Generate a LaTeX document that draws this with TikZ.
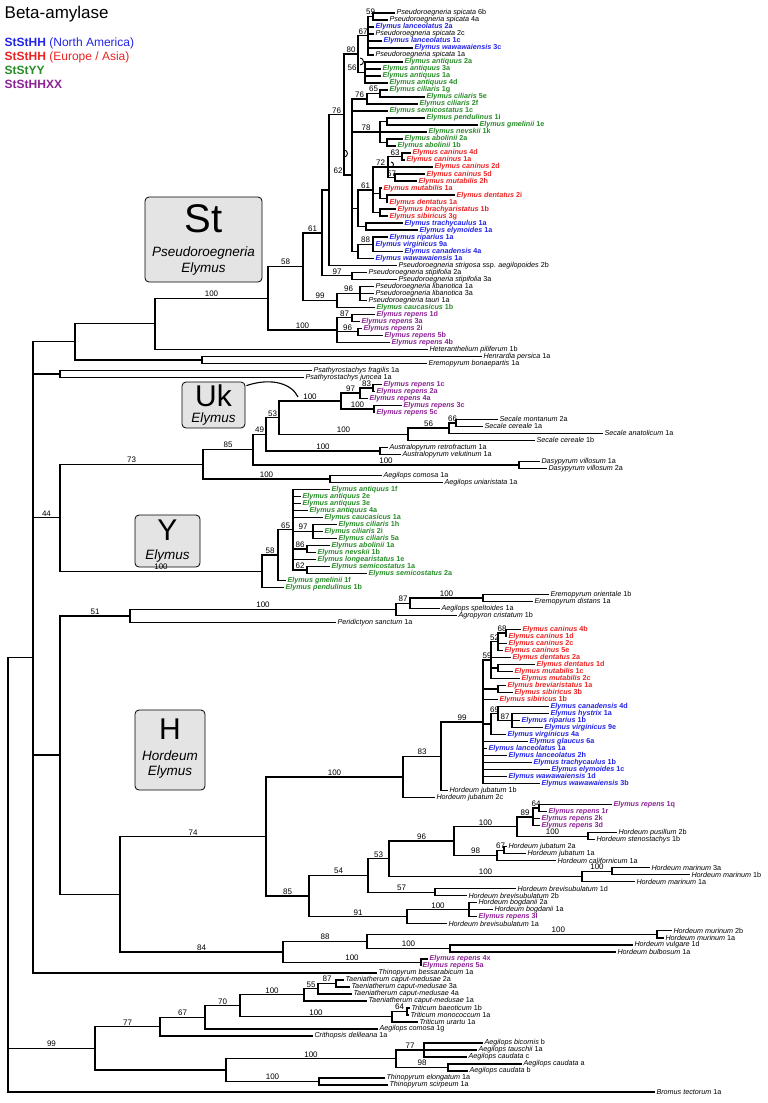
\documentclass[tikz,border=0pt]{standalone}
\usepackage{fontspec}
\setmainfont{Liberation Sans}
\definecolor{na}{RGB}{35,35,230}
\definecolor{eu}{RGB}{235,35,35}
\definecolor{yy}{RGB}{40,140,40}
\definecolor{xx}{RGB}{140,35,150}
\definecolor{boxgray}{RGB}{228,228,228}
\begin{document}
\begin{tikzpicture}[x=1pt,y=-1pt,line width=1.4pt,
  leaf/.style={anchor=west,inner sep=0.8pt,font=\fontsize{7.2}{8}\selectfont},
  elym/.style={leaf,font=\fontsize{7.2}{8}\selectfont\bfseries},
  na/.style={elym,text=na}, eu/.style={elym,text=eu},
  yy/.style={elym,text=yy}, xx/.style={elym,text=xx},
  bs/.style={pos=.75,above,inner sep=0.8pt,font=\fontsize{8}{9}\selectfont},
  bsl/.style={pos=.5,anchor=south east,inner sep=0.8pt,font=\fontsize{8}{9}\selectfont},
  genome/.style={draw,line width=0.8pt,rounded corners=4pt,fill=boxgray,inner sep=0pt},
  gbig/.style={inner sep=0pt,font=\fontsize{40}{40}\selectfont},
  gmid/.style={inner sep=0pt,font=\fontsize{30}{30}\selectfont},
  gname/.style={inner sep=0pt,font=\itshape\fontsize{13.5}{14}\selectfont},
  curl/.style={line width=0.9pt}
]
\useasboundingbox (0,0) rectangle (768,1103);
% title and legend
\node[anchor=north west,inner sep=0pt,font=\fontsize{17}{19}\selectfont] (title) at (4,5) {Beta-amylase};
\node[anchor=north west,inner sep=0pt,font=\fontsize{12}{14}\selectfont,text=na] (legNA) at (4,37) {\textbf{StStHH} (North America)};
\node[anchor=north west,inner sep=0pt,font=\fontsize{12}{14}\selectfont,text=eu] (legEU) at (4,51) {\textbf{StStHH} (Europe / Asia)};
\node[anchor=north west,inner sep=0pt,font=\fontsize{12}{14}\selectfont,text=yy] (legYY) at (4,65) {\textbf{StStYY}};
\node[anchor=north west,inner sep=0pt,font=\fontsize{12}{14}\selectfont,text=xx] (legXX) at (4,79) {\textbf{StStHHXX}};
% genome boxes
\node[genome,minimum width=117pt,minimum height=85pt] (boxSt) at (203.5,239.5) {};
\node[gbig] (tSt) at (203.5,219) {St};
\node[gname] (tSt2) at (203.5,253) {Pseudoroegneria};
\node[gname] (tSt3) at (203.5,269) {Elymus};
\node[genome,minimum width=63pt,minimum height=46pt] (boxUk) at (213.5,405) {};
\node[gmid] (tUk) at (213.5,396) {Uk};
\node[gname] (tUk2) at (213.5,419) {Elymus};
\node[genome,minimum width=65pt,minimum height=52pt] (boxY) at (167.5,541) {};
\node[gmid] (tY) at (167.5,530) {Y};
\node[gname] (tY2) at (167.5,556) {Elymus};
\node[genome,minimum width=70pt,minimum height=80pt] (boxH) at (170,750) {};
\node[gmid] (tH) at (170,729) {H};
\node[gname] (tH2) at (170,756) {Hordeum};
\node[gname] (tH3) at (170,772) {Elymus};
\draw[line width=1.1pt] (boxUk.north east) ++(1,4) .. controls (272,377) and (292,384) .. (298,397);
% small hooks at very short branches
\draw[curl] (360,65) arc[start angle=90,end angle=-90,radius=3.5];
\draw[curl] (344,157) arc[start angle=90,end angle=-90,radius=3.5];
\draw[curl] (391,167) arc[start angle=90,end angle=-90,radius=2.5];

\begin{scope}[yshift=-5.994pt,y=-7.006pt]
% ---- leaves ----
\node[leaf] (l1) at (395,1) {\textit{Pseudoroegneria spicata} 6b};
\node[leaf] (l2) at (388,2) {\textit{Pseudoroegneria spicata} 4a};
\node[na] (l3) at (374,3) {\textit{Elymus lanceolatus} 2a};
\node[leaf] (l4) at (374,4) {\textit{Pseudoroegneria spicata} 2c};
\node[na] (l5) at (382,5) {\textit{Elymus lanceolatus} 1c};
\node[na] (l6) at (413,6) {\textit{Elymus wawawaiensis} 3c};
\node[leaf] (l7) at (374,7) {\textit{Pseudoroegneria spicata} 1a};
\node[yy] (l8) at (403,8) {\textit{Elymus antiquus} 2a};
\node[yy] (l9) at (381,9) {\textit{Elymus antiquus} 3a};
\node[yy] (l10) at (381,10) {\textit{Elymus antiquus} 1a};
\node[yy] (l11) at (388,11) {\textit{Elymus antiquus} 4d};
\node[yy] (l12) at (388,12) {\textit{Elymus ciliaris} 1g};
\node[yy] (l13) at (425,13) {\textit{Elymus ciliaris} 5e};
\node[yy] (l14) at (418,14) {\textit{Elymus ciliaris} 2f};
\node[yy] (l15) at (388,15) {\textit{Elymus semicostatus} 1c};
\node[yy] (l16) at (425,16) {\textit{Elymus pendulinus} 1i};
\node[yy] (l17) at (478,17) {\textit{Elymus gmelinii} 1e};
\node[yy] (l18) at (427,18) {\textit{Elymus nevskii} 1k};
\node[yy] (l19) at (403,19) {\textit{Elymus abolinii} 2a};
\node[yy] (l20) at (396,20) {\textit{Elymus abolinii} 1b};
\node[eu] (l21) at (411,21) {\textit{Elymus caninus} 4d};
\node[eu] (l22) at (405,22) {\textit{Elymus caninus} 1a};
\node[eu] (l23) at (433,23) {\textit{Elymus caninus} 2d};
\node[eu] (l24) at (425,24) {\textit{Elymus caninus} 5d};
\node[eu] (l25) at (417,25) {\textit{Elymus mutabilis} 2h};
\node[eu] (l26) at (382,26) {\textit{Elymus mutabilis} 1a};
\node[eu] (l27) at (455,27) {\textit{Elymus dentatus} 2i};
\node[eu] (l28) at (388,28) {\textit{Elymus dentatus} 1a};
\node[eu] (l29) at (396,29) {\textit{Elymus brachyaristatus} 1b};
\node[eu] (l30) at (388,30) {\textit{Elymus sibiricus} 3g};
\node[na] (l31) at (403,31) {\textit{Elymus trachycaulus} 1a};
\node[na] (l32) at (418,32) {\textit{Elymus elymoides} 1a};
\node[na] (l33) at (388,33) {\textit{Elymus riparius} 1a};
\node[na] (l34) at (374,34) {\textit{Elymus virginicus} 9a};
\node[na] (l35) at (403,35) {\textit{Elymus canadensis} 4a};
\node[na] (l36) at (374,36) {\textit{Elymus wawawaiensis} 1a};
\node[leaf] (l37) at (397,37) {\textit{Pseudoroegneria strigosa} ssp. \textit{aegilopoides} 2b};
\node[leaf] (l38) at (367,38) {\textit{Pseudoroegneria stipifolia} 2a};
\node[leaf] (l39) at (397,39) {\textit{Pseudoroegneria stipifolia} 3a};
\node[leaf] (l40) at (374,40) {\textit{Pseudoroegneria libanotica} 1a};
\node[leaf] (l41) at (374,41) {\textit{Pseudoroegneria libanotica} 3a};
\node[leaf] (l42) at (367,42) {\textit{Pseudoroegneria tauri} 1a};
\node[yy] (l43) at (375,43) {\textit{Elymus caucasicus} 1b};
\node[xx] (l44) at (375,44) {\textit{Elymus repens} 1d};
\node[xx] (l45) at (360,45) {\textit{Elymus repens} 3a};
\node[xx] (l46) at (362,46) {\textit{Elymus repens} 2i};
\node[xx] (l47) at (383,47) {\textit{Elymus repens} 5b};
\node[xx] (l48) at (390,48) {\textit{Elymus repens} 4b};
\node[leaf] (l49) at (428,49) {\textit{Heteranthelium piliferum} 1b};
\node[leaf] (l50) at (482,50) {\textit{Henrardia persica} 1a};
\node[leaf] (l51) at (427,51) {\textit{Eremopyrum bonaepartis} 1a};
\node[leaf] (l52) at (312,52) {\textit{Psathyrostachys fragilis} 1a};
\node[leaf] (l53) at (304,53) {\textit{Psathyrostachys juncea} 1a};
\node[xx] (l54) at (382,54) {\textit{Elymus repens} 1c};
\node[xx] (l55) at (375,55) {\textit{Elymus repens} 2a};
\node[xx] (l56) at (368,56) {\textit{Elymus repens} 4a};
\node[xx] (l57) at (402,57) {\textit{Elymus repens} 3c};
\node[xx] (l58) at (375,58) {\textit{Elymus repens} 5c};
\node[leaf] (l59) at (498,59) {\textit{Secale montanum} 2a};
\node[leaf] (l60) at (483,60) {\textit{Secale cereale} 1a};
\node[leaf] (l61) at (603,61) {\textit{Secale anatolicum} 1a};
\node[leaf] (l62) at (535,62) {\textit{Secale cereale} 1b};
\node[leaf] (l63) at (388,63) {\textit{Australopyrum retrofractum} 1a};
\node[leaf] (l64) at (401,64) {\textit{Australopyrum velutinum} 1a};
\node[leaf] (l65) at (540,65) {\textit{Dasypyrum villosum} 1a};
\node[leaf] (l66) at (547,66) {\textit{Dasypyrum villosum} 2a};
\node[leaf] (l67) at (382,67) {\textit{Aegilops comosa} 1a};
\node[leaf] (l68) at (443,68) {\textit{Aegilops uniaristata} 1a};
\node[yy] (l69) at (330,69) {\textit{Elymus antiquus} 1f};
\node[yy] (l70) at (301,70) {\textit{Elymus antiquus} 2e};
\node[yy] (l71) at (301,71) {\textit{Elymus antiquus} 3e};
\node[yy] (l72) at (308,72) {\textit{Elymus antiquus} 4a};
\node[yy] (l73) at (323,73) {\textit{Elymus caucasicus} 1a};
\node[yy] (l74) at (337,74) {\textit{Elymus ciliaris} 1h};
\node[yy] (l75) at (323,75) {\textit{Elymus ciliaris} 2i};
\node[yy] (l76) at (337,76) {\textit{Elymus ciliaris} 5a};
\node[yy] (l77) at (330,77) {\textit{Elymus abolinii} 1a};
\node[yy] (l78) at (316,78) {\textit{Elymus nevskii} 1b};
\node[yy] (l79) at (316,79) {\textit{Elymus longearistatus} 1e};
\node[yy] (l80) at (330,80) {\textit{Elymus semicostatus} 1a};
\node[yy] (l81) at (367,81) {\textit{Elymus semicostatus} 2a};
\node[yy] (l82) at (286,82) {\textit{Elymus gmelinii} 1f};
\node[yy] (l83) at (284,83) {\textit{Elymus pendulinus} 1b};
\node[leaf] (l84) at (549,84) {\textit{Eremopyrum orientale} 1b};
\node[leaf] (l85) at (533,85) {\textit{Eremopyrum distans} 1a};
\node[leaf] (l86) at (440,86) {\textit{Aegilops speltoides} 1a};
\node[leaf] (l87) at (457,87) {\textit{Agropyron cristatum} 1b};
\node[leaf] (l88) at (336,88) {\textit{Peridictyon sanctum} 1a};
\node[eu] (l89) at (521,89) {\textit{Elymus caninus} 4b};
\node[eu] (l90) at (507,90) {\textit{Elymus caninus} 1d};
\node[eu] (l91) at (507,91) {\textit{Elymus caninus} 2c};
\node[eu] (l92) at (503,92) {\textit{Elymus caninus} 5e};
\node[eu] (l93) at (511,93) {\textit{Elymus dentatus} 2a};
\node[eu] (l94) at (535,94) {\textit{Elymus dentatus} 1d};
\node[eu] (l95) at (513,95) {\textit{Elymus mutabilis} 1c};
\node[eu] (l96) at (520,96) {\textit{Elymus mutabilis} 2c};
\node[eu] (l97) at (506,97) {\textit{Elymus breviaristatus} 1a};
\node[eu] (l98) at (513,98) {\textit{Elymus sibiricus} 3b};
\node[eu] (l99) at (498,99) {\textit{Elymus sibiricus} 1b};
\node[na] (l100) at (549,100) {\textit{Elymus canadensis} 4d};
\node[na] (l101) at (549,101) {\textit{Elymus hystrix} 1a};
\node[na] (l102) at (520,102) {\textit{Elymus riparius} 1b};
\node[na] (l103) at (543,103) {\textit{Elymus virginicus} 9e};
\node[na] (l104) at (506,104) {\textit{Elymus virginicus} 4a};
\node[na] (l105) at (528,105) {\textit{Elymus glaucus} 6a};
\node[na] (l106) at (487,106) {\textit{Elymus lanceolatus} 1a};
\node[na] (l107) at (507,107) {\textit{Elymus lanceolatus} 2h};
\node[na] (l108) at (532,108) {\textit{Elymus trachycaulus} 1b};
\node[na] (l109) at (550,109) {\textit{Elymus elymoides} 1c};
\node[na] (l110) at (507,110) {\textit{Elymus wawawaiensis} 1d};
\node[na] (l111) at (540,111) {\textit{Elymus wawawaiensis} 3b};
\node[leaf] (l112) at (448,112) {\textit{Hordeum jubatum} 1b};
\node[leaf] (l113) at (435,113) {\textit{Hordeum jubatum} 2c};
\node[xx] (l114) at (612,114) {\textit{Elymus repens} 1q};
\node[xx] (l115) at (547,115) {\textit{Elymus repens} 1r};
\node[xx] (l116) at (540,116) {\textit{Elymus repens} 2k};
\node[xx] (l117) at (540,117) {\textit{Elymus repens} 3d};
\node[leaf] (l118) at (617,118) {\textit{Hordeum pusillum} 2b};
\node[leaf] (l119) at (595,119) {\textit{Hordeum stenostachys} 1b};
\node[leaf] (l120) at (507,120) {\textit{Hordeum jubatum} 2a};
\node[leaf] (l121) at (526,121) {\textit{Hordeum jubatum} 1a};
\node[leaf] (l122) at (556,122) {\textit{Hordeum californicum} 1a};
\node[leaf] (l123) at (650,123) {\textit{Hordeum marinum} 3a};
\node[leaf] (l124) at (690,124) {\textit{Hordeum marinum} 1b};
\node[leaf] (l125) at (635,125) {\textit{Hordeum marinum} 1a};
\node[leaf] (l126) at (516,126) {\textit{Hordeum brevisubulatum} 1d};
\node[leaf] (l127) at (467,127) {\textit{Hordeum brevisubulatum} 2b};
\node[leaf] (l128) at (477,128) {\textit{Hordeum bogdanii} 2a};
\node[leaf] (l129) at (493,129) {\textit{Hordeum bogdanii} 1a};
\node[xx] (l130) at (477,130) {\textit{Elymus repens} 3l};
\node[leaf] (l131) at (447,131) {\textit{Hordeum brevisubulatum} 1a};
\node[leaf] (l132) at (672,132) {\textit{Hordeum murinum} 2b};
\node[leaf] (l133) at (664,133) {\textit{Hordeum murinum} 1a};
\node[leaf] (l134) at (633,134) {\textit{Hordeum vulgare} 1d};
\node[leaf] (l135) at (616,135) {\textit{Hordeum bulbosum} 1a};
\node[xx] (l136) at (428,136) {\textit{Elymus repens} 4x};
\node[xx] (l137) at (421,137) {\textit{Elymus repens} 5a};
\node[leaf] (l138) at (377,138) {\textit{Thinopyrum bessarabicum} 1a};
\node[leaf] (l139) at (344,139) {\textit{Taeniatherum caput-medusae} 2a};
\node[leaf] (l140) at (350,140) {\textit{Taeniatherum caput-medusae} 3a};
\node[leaf] (l141) at (352,141) {\textit{Taeniatherum caput-medusae} 4a};
\node[leaf] (l142) at (367,142) {\textit{Taeniatherum caput-medusae} 1a};
\node[leaf] (l143) at (410,143) {\textit{Triticum baeoticum} 1b};
\node[leaf] (l144) at (409,144) {\textit{Triticum monococcum} 1a};
\node[leaf] (l145) at (418,145) {\textit{Triticum urartu} 1a};
\node[leaf] (l146) at (378,146) {\textit{Aegilops comosa} 1g};
\node[leaf] (l147) at (313,147) {\textit{Crithopsis delileana} 1a};
\node[leaf] (l148) at (483,148) {\textit{Aegilops bicornis} b};
\node[leaf] (l149) at (477,149) {\textit{Aegilops tauschii} 1a};
\node[leaf] (l150) at (467,150) {\textit{Aegilops caudata} c};
\node[leaf] (l151) at (522,151) {\textit{Aegilops caudata} a};
\node[leaf] (l152) at (468,152) {\textit{Aegilops caudata} b};
\node[leaf] (l153) at (385,153) {\textit{Thinopyrum elongatum} 1a};
\node[leaf] (l154) at (388,154) {\textit{Thinopyrum scirpeum} 1a};
\node[leaf] (l155) at (655,155) {\textit{Bromus tectorum} 1a};

% ---- internal nodes (x in pt, y in rows) ----
\coordinate (n59) at (373,1.5);
\coordinate (n67) at (368,4.25);
\coordinate (n56) at (365,9.5);
\coordinate (n80) at (358,6.875);
\coordinate (n65) at (380,12.5);
\coordinate (n76a) at (367,13.25);
\coordinate (nPG) at (387,16.5);
\coordinate (nAB) at (387,19.5);
\coordinate (n78) at (380,18);
\coordinate (n63) at (402,21.5);
\coordinate (n57) at (395,24.5);
\coordinate (n72) at (388,23);
\coordinate (nDent) at (387,27.5);
\coordinate (nMut) at (380,26.75);
\coordinate (nBS) at (380,29.5);
\coordinate (nRed) at (373,26.25);
\coordinate (nTE) at (366,31.5);
\coordinate (nR) at (358,28.875);
\coordinate (n88) at (373,34);
\coordinate (nBl) at (358,35);
\coordinate (nY) at (352,24.125);
\coordinate (nBig) at (344,15.5);
\coordinate (nX) at (329,26.25);
\coordinate (n97) at (352,38.5);
\coordinate (n61) at (322,32.375);
\coordinate (n96a) at (360,41);
\coordinate (n99) at (337,42);
\coordinate (n58) at (303,37.19);
\coordinate (n87) at (352,44.5);
\coordinate (n96b) at (358,46.5);
\coordinate (nRep) at (337,46.25);
\coordinate (n100a) at (268,41.72);
\coordinate (nTop1) at (155,45.36);
\coordinate (nHE) at (202,50.5);
\coordinate (nTop2) at (75,47.93);
\coordinate (nPs) at (60,52.5);
% Uk, Secale, Australopyrum, Dasypyrum, Aegilops
\coordinate (n83) at (373,54.5);
\coordinate (n97c) at (360,55.25);
\coordinate (n100c) at (374,57.5);
\coordinate (nUk) at (341,56.375);
\coordinate (n66) at (456,59.5);
\coordinate (n56s) at (449,60.25);
\coordinate (nSec) at (408,61.125);
\coordinate (n53) at (279,58.75);
\coordinate (nAus) at (380,63.5);
\coordinate (n49) at (266,61.125);
\coordinate (nDasy) at (519,65.5);
\coordinate (n85) at (253,63.31);
\coordinate (nAeg) at (330,67.5);
\coordinate (nU) at (203,65.41);
% Y
\coordinate (n97y) at (313,75);
\coordinate (n86) at (307,77.5);
\coordinate (n62y) at (307,80.5);
\coordinate (n65y) at (293,74.75);
\coordinate (n58y) at (278,78.375);
\coordinate (nYc) at (262,80.69);
\coordinate (n44) at (60,73.05);
% H
\coordinate (nErem) at (483,84.5);
\coordinate (n87h) at (410,85.25);
\coordinate (nAgro) at (396,86.125);
\coordinate (nP) at (130,87.06);
\coordinate (n68) at (506,89.5);
\coordinate (n52) at (498,90.75);
\coordinate (nDM) at (498,94.5);
\coordinate (n59h) at (491,93.375);
\coordinate (nBS2) at (498,97.5);
\coordinate (n87e) at (512,102);
\coordinate (n69) at (498,101);
\coordinate (nV) at (491,102.5);
\coordinate (n99h) at (483,102.19);
\coordinate (n83h) at (441,107.09);
\coordinate (n100j) at (403,110.05);
\coordinate (n64) at (539,114.5);
\coordinate (n89) at (533,115.75);
\coordinate (nPS) at (588,118.5);
\coordinate (n100h) at (517,117.125);
\coordinate (n67h) at (504,120.5);
\coordinate (n98) at (497,121.25);
\coordinate (n96h) at (454,119.19);
\coordinate (n100m) at (612,123.5);
\coordinate (nMarAll) at (582,124.25);
\coordinate (n53h) at (389,121.72);
\coordinate (nBrev) at (435,126.5);
\coordinate (n54) at (368,124.11);
\coordinate (nBog) at (469,129);
\coordinate (n91) at (407,130);
\coordinate (n85h) at (309,127.05);
\coordinate (n266) at (266,118.55);
\coordinate (nMur) at (657,132.5);
\coordinate (nVB) at (450,134.5);
\coordinate (n88h) at (367,133.5);
\coordinate (nR45) at (421,136.5);
\coordinate (n283) at (283,135);
\coordinate (nH) at (120,126.78);
\coordinate (nH2) at (60,106.92);
% basal groups
\coordinate (n87t) at (336,139.5);
\coordinate (n55) at (318,140.25);
\coordinate (nTaen) at (304,141.125);
\coordinate (nTr64) at (407,143.5);
\coordinate (nTr) at (392,144.25);
\coordinate (n70) at (240,142.69);
\coordinate (n67b) at (205,144.34);
\coordinate (n77b) at (160,145.67);
\coordinate (n77a) at (424,149);
\coordinate (n98a) at (448,151.5);
\coordinate (nAegB) at (396,150.25);
\coordinate (nThin) at (319,153.5);
\coordinate (nAT) at (226,151.875);
\coordinate (n99b) at (95,148.77);
\coordinate (nBase) at (33,92.97);
\coordinate (root) at (8,123.98);

% ---- branches ----
\foreach \c in {l1,l2} \draw (n59) |- (\c);
\foreach \c in {l3,l4,l5,l6,l7} \draw (n67) |- (\c);
\draw (n67) |- node[bs]{59} (n59);
\foreach \c in {l8,l9,l10,l11} \draw (n56) |- (\c);
\draw (n80) |- node[bs]{67} (n67);
\draw (n80) |- node[bsl]{56} (n56);
\foreach \c in {l12,l13} \draw (n65) |- (\c);
\draw (n76a) |- node[bs]{65} (n65);
\draw (n76a) |- (l14);
\foreach \c in {l16,l17} \draw (nPG) |- (\c);
\foreach \c in {l19,l20} \draw (nAB) |- (\c);
\foreach \c in {nPG,l18,nAB} \draw (n78) |- (\c);
\foreach \c in {l21,l22} \draw (n63) |- (\c);
\foreach \c in {l24,l25} \draw (n57) |- (\c);
\draw (n72) |- node[bs]{63} (n63);
\draw (n72) |- (l23);
\draw (n72) |- node[bs]{57} (n57);
\foreach \c in {l27,l28} \draw (nDent) |- (\c);
\foreach \c in {l26,nDent} \draw (nMut) |- (\c);
\foreach \c in {l29,l30} \draw (nBS) |- (\c);
\draw (nRed) |- node[bs]{72} (n72);
\foreach \c in {nMut,nBS} \draw (nRed) |- (\c);
\foreach \c in {l31,l32} \draw (nTE) |- (\c);
\draw (nR) |- node[bs]{61} (nRed);
\draw (nR) |- (nTE);
\foreach \c in {l33,l34,l35} \draw (n88) |- (\c);
\draw (nBl) |- node[bs]{88} (n88);
\draw (nBl) |- (l36);
\draw (nY) |- node[bs]{76} (n76a);
\draw (nY) |- node[bs]{78} (n78);
\foreach \c in {l15,nR,nBl} \draw (nY) |- (\c);
\draw (nBig) |- node[bs]{80} (n80);
\draw (nBig) |- node[bsl]{62} (nY);
\draw (nX) |- node[bs]{76} (nBig);
\draw (nX) |- (l37);
\foreach \c in {l38,l39} \draw (n97) |- (\c);
\draw (n61) |- (nX);
\draw (n61) |- node[bs]{97} (n97);
\foreach \c in {l40,l41,l42} \draw (n96a) |- (\c);
\draw (n99) |- node[bs]{96} (n96a);
\draw (n99) |- (l43);
\draw (n58) |- node[bs]{61} (n61);
\draw (n58) |- node[bs]{99} (n99);
\foreach \c in {l44,l45} \draw (n87) |- (\c);
\foreach \c in {l46,l47} \draw (n96b) |- (\c);
\draw (nRep) |- node[bs]{87} (n87);
\draw (nRep) |- node[bs]{96} (n96b);
\draw (nRep) |- (l48);
\draw (n100a) |- node[bs]{58} (n58);
\draw (n100a) |- node[bs]{100} (nRep);
\draw (nTop1) |- node[bs]{100} (n100a);
\draw (nTop1) |- (l49);
\foreach \c in {l50,l51} \draw (nHE) |- (\c);
\foreach \c in {nTop1,nHE} \draw (nTop2) |- (\c);
\foreach \c in {l52,l53} \draw (nPs) |- (\c);
% Uk
\foreach \c in {l54,l55} \draw (n83) |- (\c);
\draw (n97c) |- node[bs]{83} (n83);
\draw (n97c) |- (l56);
\foreach \c in {l57,l58} \draw (n100c) |- (\c);
\draw (nUk) |- node[bs]{97} (n97c);
\draw (nUk) |- node[bs]{100} (n100c);
\foreach \c in {l59,l60} \draw (n66) |- (\c);
\draw (n56s) |- node[bs]{66} (n66);
\draw (n56s) |- (l61);
\draw (nSec) |- node[bs]{56} (n56s);
\draw (nSec) |- (l62);
\draw (n53) |- node[bs]{100} (nUk);
\draw (n53) |- node[bs]{100} (nSec);
\foreach \c in {l63,l64} \draw (nAus) |- (\c);
\draw (n49) |- node[bs]{53} (n53);
\draw (n49) |- node[bs]{100} (nAus);
\foreach \c in {l65,l66} \draw (nDasy) |- (\c);
\draw (n85) |- node[bs]{49} (n49);
\draw (n85) |- node[bs]{100} (nDasy);
\foreach \c in {l67,l68} \draw (nAeg) |- (\c);
\draw (nU) |- node[bs]{85} (n85);
\draw (nU) |- node[bs]{100} (nAeg);
% Y
\foreach \c in {l74,l75,l76} \draw (n97y) |- (\c);
\foreach \c in {l77,l78} \draw (n86) |- (\c);
\foreach \c in {l80,l81} \draw (n62y) |- (\c);
\foreach \c in {l69,l70,l71,l72,l73,l79} \draw (n65y) |- (\c);
\draw (n65y) |- node[bs]{97} (n97y);
\draw (n65y) |- node[bs]{86} (n86);
\draw (n65y) |- node[bs]{62} (n62y);
\draw (n58y) |- node[bs]{65} (n65y);
\draw (n58y) |- (l82);
\draw (nYc) |- node[bs]{58} (n58y);
\draw (nYc) |- (l83);
\draw (n44) |- node[bs]{73} (nU);
\draw (n44) |- node[bs]{100} (nYc);
% H
\foreach \c in {l84,l85} \draw (nErem) |- (\c);
\draw (n87h) |- node[bs]{100} (nErem);
\draw (n87h) |- (l86);
\draw (nAgro) |- node[bs]{87} (n87h);
\draw (nAgro) |- (l87);
\draw (nP) |- node[bs]{100} (nAgro);
\draw (nP) |- (l88);
\foreach \c in {l89,l90} \draw (n68) |- (\c);
\draw (n52) |- node[bs]{68} (n68);
\foreach \c in {l91,l92} \draw (n52) |- (\c);
\foreach \c in {l94,l95} \draw (nDM) |- (\c);
\draw (n59h) |- node[bs]{52} (n52);
\foreach \c in {l93,nDM,l96} \draw (n59h) |- (\c);
\foreach \c in {l97,l98} \draw (nBS2) |- (\c);
\foreach \c in {l101,l102,l103} \draw (n87e) |- (\c);
\draw (n69) |- (l100);
\draw (n69) |- node[bs]{87} (n87e);
\draw (nV) |- node[bs]{69} (n69);
\draw (nV) |- (l104);
\draw (n99h) |- node[bs]{59} (n59h);
\foreach \c in {nBS2,l99,nV,l105,l106,l107,l108,l109,l110,l111} \draw (n99h) |- (\c);
\draw (n83h) |- node[bs]{99} (n99h);
\draw (n83h) |- (l112);
\draw (n100j) |- node[bs]{83} (n83h);
\draw (n100j) |- (l113);
\foreach \c in {l114,l115} \draw (n64) |- (\c);
\draw (n89) |- node[bs]{64} (n64);
\foreach \c in {l116,l117} \draw (n89) |- (\c);
\foreach \c in {l118,l119} \draw (nPS) |- (\c);
\draw (n100h) |- node[bs]{89} (n89);
\draw (n100h) |- node[bs]{100} (nPS);
\foreach \c in {l120,l121} \draw (n67h) |- (\c);
\draw (n98) |- node[bs]{67} (n67h);
\draw (n98) |- (l122);
\draw (n96h) |- node[bs]{100} (n100h);
\draw (n96h) |- node[bs]{98} (n98);
\foreach \c in {l123,l124} \draw (n100m) |- (\c);
\draw (nMarAll) |- node[bs]{100} (n100m);
\draw (nMarAll) |- (l125);
\draw (n53h) |- node[bs]{96} (n96h);
\draw (n53h) |- node[bs]{100} (nMarAll);
\foreach \c in {l126,l127} \draw (nBrev) |- (\c);
\draw (n54) |- node[bs]{53} (n53h);
\draw (n54) |- node[bs]{57} (nBrev);
\foreach \c in {l128,l129,l130} \draw (nBog) |- (\c);
\draw (n91) |- node[bs]{100} (nBog);
\draw (n91) |- (l131);
\draw (n85h) |- node[bs]{54} (n54);
\draw (n85h) |- node[bs]{91} (n91);
\draw (n266) |- node[bs]{100} (n100j);
\draw (n266) |- node[bs]{85} (n85h);
\foreach \c in {l132,l133} \draw (nMur) |- (\c);
\foreach \c in {l134,l135} \draw (nVB) |- (\c);
\draw (n88h) |- node[bs,pos=.83]{100} (nMur);
\draw (n88h) |- node[bs]{100} (nVB);
\foreach \c in {l136,l137} \draw (nR45) |- (\c);
\draw (n283) |- node[bs]{88} (n88h);
\draw (n283) |- node[bs]{100} (nR45);
\draw (nH) |- node[bs]{74} (n266);
\draw (nH) |- node[bs]{84} (n283);
\draw (nH2) |- node[bs]{51} (nP);
\draw (nH2) |- (nH);
% basal
\foreach \c in {l139,l140} \draw (n87t) |- (\c);
\draw (n55) |- node[bs]{87} (n87t);
\draw (n55) |- (l141);
\draw (nTaen) |- node[bs]{55} (n55);
\draw (nTaen) |- (l142);
\foreach \c in {l143,l144} \draw (nTr64) |- (\c);
\draw (nTr) |- node[bs]{64} (nTr64);
\draw (nTr) |- (l145);
\draw (n70) |- node[bs]{100} (nTaen);
\draw (n70) |- node[bs]{100} (nTr);
\draw (n67b) |- node[bs]{70} (n70);
\draw (n67b) |- (l146);
\draw (n77b) |- node[bs]{67} (n67b);
\draw (n77b) |- (l147);
\foreach \c in {l148,l149,l150} \draw (n77a) |- (\c);
\foreach \c in {l151,l152} \draw (n98a) |- (\c);
\draw (nAegB) |- node[bs]{77} (n77a);
\draw (nAegB) |- node[bs]{98} (n98a);
\foreach \c in {l153,l154} \draw (nThin) |- (\c);
\draw (nAT) |- node[bs]{100} (nAegB);
\draw (nAT) |- node[bs]{100} (nThin);
\draw (n99b) |- node[bs]{77} (n77b);
\draw (n99b) |- (nAT);
\draw (nBase) |- (nTop2);
\draw (nBase) |- (nPs);
\draw (nBase) |- node[bs]{44} (n44);
\draw (nBase) |- (nH2);
\draw (nBase) |- (l138);
\draw (root) |- (nBase);
\draw (root) |- node[bs]{99} (n99b);
\draw (root) |- (l155);
\end{scope}
\end{tikzpicture}
\end{document}
